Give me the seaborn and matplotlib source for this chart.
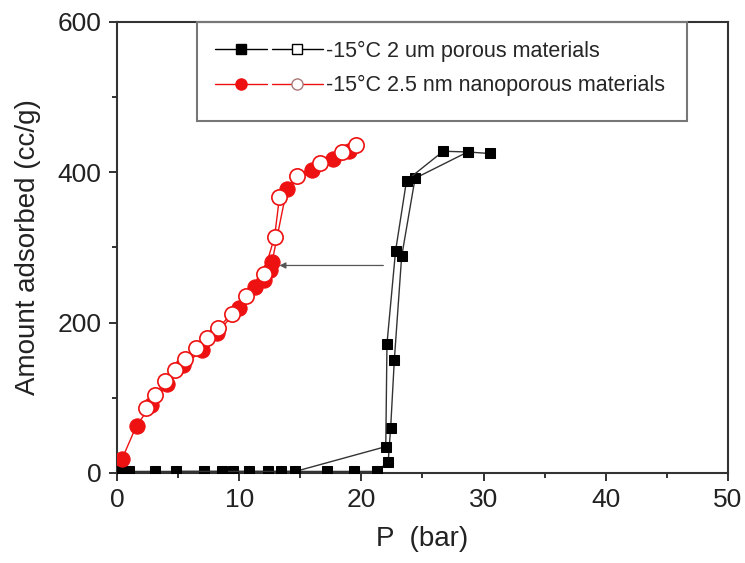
import numpy as np
import pandas as pd
import seaborn as sns
import matplotlib.pyplot as plt
from matplotlib.lines import Line2D
from matplotlib.patches import Rectangle
from matplotlib.legend_handler import HandlerTuple
from matplotlib.ticker import MultipleLocator

# =============================================================================
# DATA
# =============================================================================

# 2 um porous materials, adsorption branch
um_ads_p = [0.3, 1.0, 3.1, 7.1, 9.5, 12.4, 17.2, 19.4, 21.3, 22.2, 22.4, 22.7, 23.3, 24.4, 28.7, 30.5]
um_ads_q = [2, 2, 2, 2, 2, 2, 2, 2, 2, 15, 60, 150, 288, 392, 427, 425]

# 2 um porous materials, desorption branch
um_des_p = [28.7, 26.7, 23.7, 22.8, 22.1, 22.0, 14.6, 13.4, 10.8, 8.6, 4.8]
um_des_q = [427, 428, 389, 295, 172, 35, 2, 2, 2, 2, 2]

# 2.5 nm nanoporous materials, adsorption branch
nm_ads_p = [0.4, 1.6, 2.8, 4.1, 5.4, 7.0, 8.2, 10.0, 11.3, 12.0, 12.5, 12.7, 13.9, 16.0, 17.7, 19.0]
nm_ads_q = [18, 63, 90, 118, 143, 163, 186, 220, 248, 257, 270, 281, 378, 403, 418, 428]

# 2.5 nm nanoporous materials, desorption branch
nm_des_p = [19.6, 18.4, 16.6, 14.7, 13.3, 12.9, 12.0, 10.6, 9.4, 8.3, 7.35, 6.5, 5.6, 4.75, 3.95, 3.1, 2.35]
nm_des_q = [436, 427, 412, 395, 367, 314, 265, 235, 212, 193, 180, 166, 152, 137, 122, 104, 86]

labels = ["-15°C 2 um porous materials", "-15°C 2.5 nm nanoporous materials"]

# arrow from the step of the um branch to the nm branch
arrow_from = (21.8, 276)
arrow_to = (13.3, 276)

# =============================================================================
# STYLE
# =============================================================================

sns.set_theme(style="ticks")
plt.rcParams["font.family"] = ["Liberation Sans", "DejaVu Sans"]

fig = plt.figure(figsize=(7.45, 5.63), dpi=100)
ax = fig.add_axes([0.157, 0.160, 0.820, 0.801])

red = "#ee1111"

# =============================================================================
# PLOT
# =============================================================================

sns.lineplot(x=um_ads_p, y=um_ads_q, sort=False, estimator=None, ax=ax,
             color="#333333", linewidth=1.0, marker="s", markersize=7,
             markerfacecolor="black", markeredgecolor="black", zorder=3)
sns.lineplot(x=um_des_p, y=um_des_q, sort=False, estimator=None, ax=ax,
             color="#333333", linewidth=1.0, marker="s", markersize=7,
             markerfacecolor="black", markeredgecolor="black", zorder=3)

sns.lineplot(x=nm_ads_p, y=nm_ads_q, sort=False, estimator=None, ax=ax,
             color=red, linewidth=1.0, marker="o", markersize=11,
             markerfacecolor=red, markeredgecolor=red, zorder=3)
sns.lineplot(x=nm_des_p, y=nm_des_q, sort=False, estimator=None, ax=ax,
             color=red, linewidth=1.0, marker="o", markersize=11,
             markerfacecolor="white", markeredgecolor=red,
             markeredgewidth=1.2, zorder=4)

ax.annotate("", xy=arrow_to, xytext=arrow_from,
            arrowprops=dict(arrowstyle="-|>", color="#555555", lw=0.9,
                            mutation_scale=9, shrinkA=0, shrinkB=0))

# =============================================================================
# AXES
# =============================================================================

ax.set_xlim(0, 50)
ax.set_ylim(0, 600)
ax.xaxis.set_major_locator(MultipleLocator(10))
ax.xaxis.set_minor_locator(MultipleLocator(5))
ax.yaxis.set_major_locator(MultipleLocator(200))
ax.yaxis.set_minor_locator(MultipleLocator(100))
ax.tick_params(which="major", direction="out", length=6, width=1.3,
               labelsize=19, colors="#222222", pad=5)
ax.tick_params(which="minor", direction="out", length=3.5, width=1.3,
               colors="#222222")

for side in ["left", "right", "top", "bottom"]:
    ax.spines[side].set_visible(True)
    ax.spines[side].set_linewidth(1.5)
    ax.spines[side].set_color("#333333")

ax.set_xlabel("P  (bar)", fontsize=20, color="#222222", labelpad=10)
ax.set_ylabel("Amount adsorbed (cc/g)", fontsize=20, color="#222222", labelpad=12)

# =============================================================================
# LEGEND
# =============================================================================

h1 = (Line2D([], [], color="black", lw=1.0, marker="s", markersize=7,
             markerfacecolor="black"),
      Line2D([], [], color="black", lw=1.0, marker="s", markersize=7,
             markerfacecolor="white"))
h2 = (Line2D([], [], color=red, lw=1.0, marker="o", markersize=8,
             markerfacecolor=red, markeredgecolor=red),
      Line2D([], [], color=red, lw=1.0, marker="o", markersize=8,
             markerfacecolor="white", markeredgecolor="#aa7777"))

ax.legend([h1, h2], labels,
          handler_map={tuple: HandlerTuple(ndivide=None, pad=0.25)},
          loc="upper left", bbox_to_anchor=(0.147, 0.978),
          frameon=False, fontsize=15.5, handlelength=5.0,
          handletextpad=0.12, labelspacing=0.62, borderaxespad=0)

ax.add_patch(Rectangle((0.131, 0.78), 0.802, 0.22, transform=ax.transAxes,
                       fill=False, edgecolor="#777777", linewidth=1.5,
                       zorder=5, clip_on=False))

plt.savefig("out.png", dpi=100)
